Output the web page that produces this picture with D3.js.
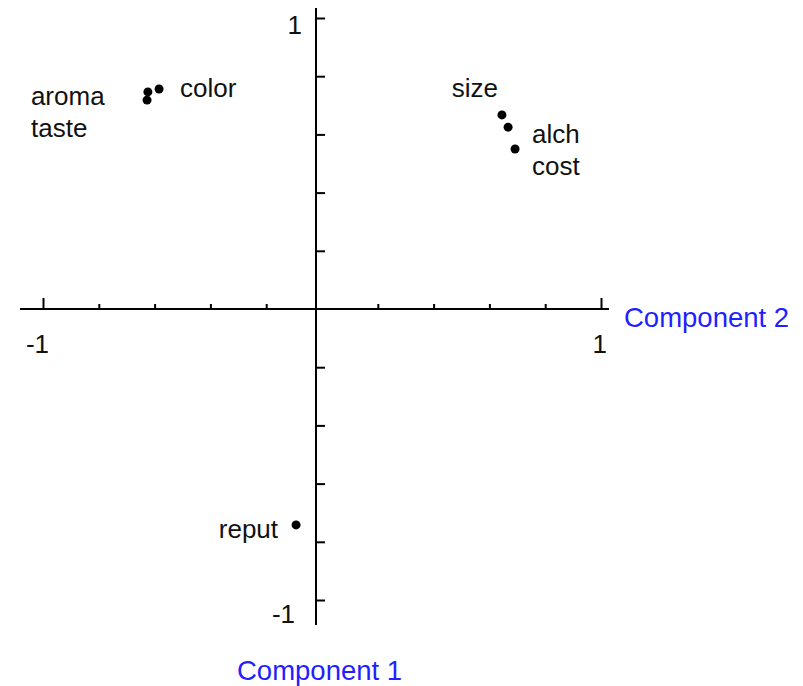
<!DOCTYPE html>
<html>
<head>
<meta charset="utf-8">
<title>Component plot</title>
<script src="https://d3js.org/d3.v7.min.js"></script>
<style>
    body { margin: 0; background: #fff; }
    text { font-family: Arial, "Liberation Sans", sans-serif; }
</style>
</head>
<body>
<div id="vis"></div>
<script>
    // loadings
    var variables = ["aroma", "taste", "color", "size", "alch", "cost", "reput"];
    var comp2 = [-0.624, -0.627, -0.584, 0.645, 0.667, 0.692, -0.093];
    var comp1 = [0.746, 0.718, 0.756, 0.667, 0.625, 0.550, -0.742];
    var tickValues = [-1, -0.8, -0.6, -0.4, -0.2, 0.2, 0.4, 0.6, 0.8, 1];
    var endTicks = [-1, 1];
    var titleX = "Component 2";
    var titleY = "Component 1";

    // where each label sits relative to its point: dx, dy, anchor
    var labelPos = {
        aroma: [-117, 13, "start"],
        taste: [-116, 37, "start"],
        color: [21, 8, "start"],
        size:  [-4, -18, "end"],
        alch:  [24, 16, "start"],
        cost:  [17, 26, "start"],
        reput: [-18, 13, "end"]
    };

    var width = 803, height = 686;
    var blue = "#1f1fff";

    var svg = d3.select("#vis").append("svg")
        .attr("width", width)
        .attr("height", height);

    var x = d3.scaleLinear().domain([-1, 1]).range([43, 601]);
    var y = d3.scaleLinear().domain([-1, 1]).range([600, 18]);
    var axisX = x(0) - 6;   // vertical axis is drawn a little left of centre

    // horizontal axis
    svg.append("line")
        .attr("x1", x(-1) - 23).attr("x2", x(1) + 8)
        .attr("y1", y(0)).attr("y2", y(0))
        .attr("stroke", "#000").attr("stroke-width", 2);

    var gx = svg.append("g")
        .attr("transform", "translate(0," + y(0) + ")")
        .call(d3.axisTop(x).tickValues(tickValues).tickSize(5).tickFormat(""));
    gx.select(".domain").remove();
    gx.selectAll(".tick line")
        .attr("stroke", "#000").attr("stroke-width", 2)
        .attr("y2", function(d) { return endTicks.indexOf(d) >= 0 ? -11 : -5; });

    // vertical axis
    svg.append("line")
        .attr("x1", axisX).attr("x2", axisX)
        .attr("y1", y(1) - 10).attr("y2", y(-1) + 25)
        .attr("stroke", "#000").attr("stroke-width", 2);

    var gy = svg.append("g")
        .attr("transform", "translate(" + axisX + ",0)")
        .call(d3.axisRight(y).tickValues(tickValues).tickSize(9).tickFormat(""));
    gy.select(".domain").remove();
    gy.selectAll(".tick line").attr("stroke", "#000").attr("stroke-width", 2);

    // end labels
    svg.selectAll("text.xlab")
        .data(endTicks)
        .enter().append("text")
        .attr("class", "xlab")
        .attr("x", function(d) { return x(d) + 6; })
        .attr("y", y(0) + 44)
        .attr("text-anchor", "end")
        .attr("font-size", 26)
        .attr("fill", "#111")
        .text(function(d) { return d; });

    svg.selectAll("text.ylab")
        .data(endTicks)
        .enter().append("text")
        .attr("class", "ylab")
        .attr("x", function(d) { return d > 0 ? axisX - 14 : axisX - 21; })
        .attr("y", function(d) { return d > 0 ? y(d) + 16 : y(d) + 23; })
        .attr("text-anchor", "end")
        .attr("font-size", 26)
        .attr("fill", "#111")
        .text(function(d) { return d; });

    // axis titles
    svg.append("text")
        .attr("x", x(1) + 23)
        .attr("y", y(0) + 18)
        .attr("font-size", 27.5)
        .attr("fill", blue)
        .text(titleX);

    svg.append("text")
        .attr("x", 237)
        .attr("y", 680)
        .attr("font-size", 27.5)
        .attr("fill", blue)
        .text(titleY);

    // points
    var data = variables.map(function(v, i) {
        return {name: v, c2: comp2[i], c1: comp1[i]};
    });

    svg.selectAll("circle.pt")
        .data(data)
        .enter().append("circle")
        .attr("class", "pt")
        .attr("cx", function(d) { return x(d.c2); })
        .attr("cy", function(d) { return y(d.c1); })
        .attr("r", 4.5)
        .attr("fill", "#000");

    svg.selectAll("text.pt")
        .data(data)
        .enter().append("text")
        .attr("class", "pt")
        .attr("x", function(d) { return x(d.c2) + labelPos[d.name][0]; })
        .attr("y", function(d) { return y(d.c1) + labelPos[d.name][1]; })
        .attr("text-anchor", function(d) { return labelPos[d.name][2]; })
        .attr("font-size", 26)
        .attr("fill", "#111")
        .text(function(d) { return d.name; });
</script>
</body>
</html>
